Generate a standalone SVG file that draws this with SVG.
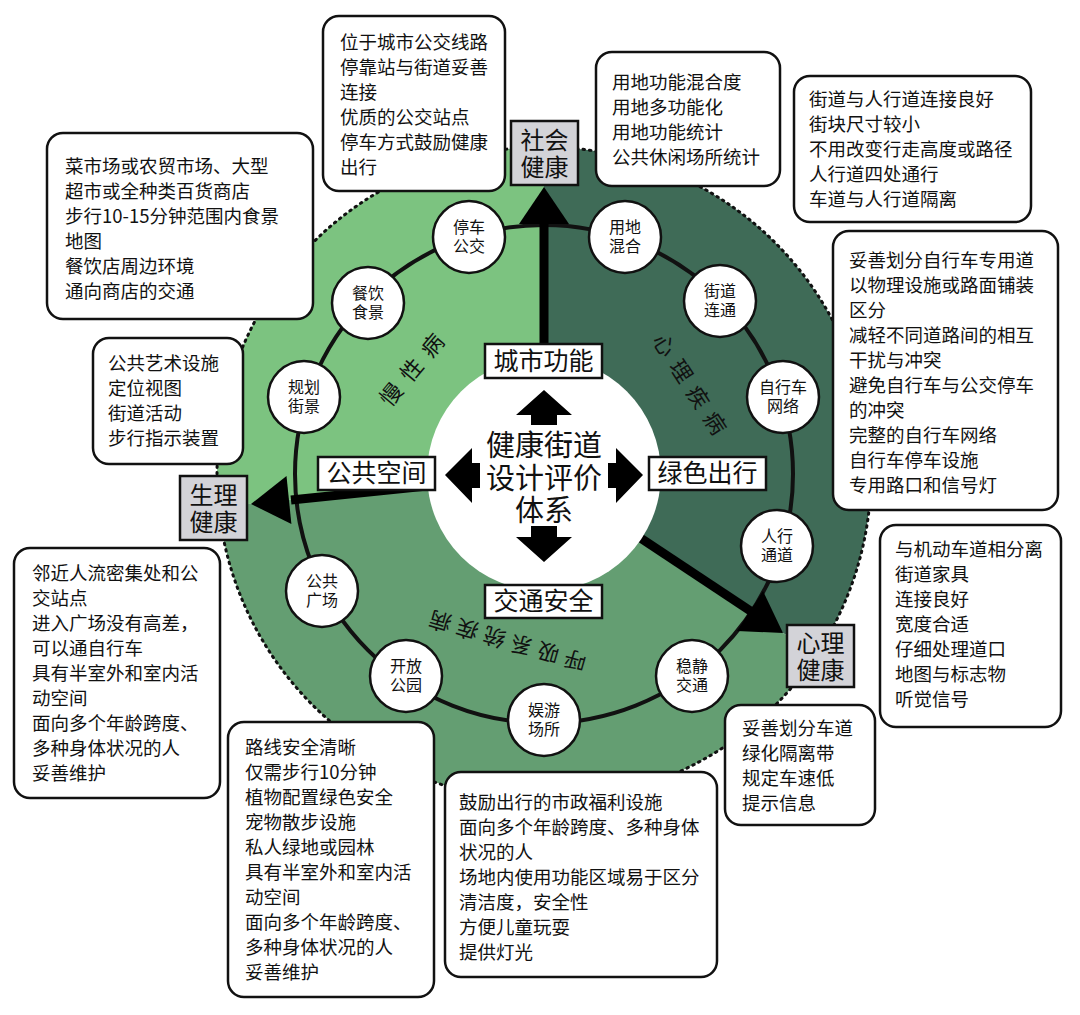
<svg xmlns="http://www.w3.org/2000/svg" width="1080" height="1015" viewBox="0 0 1080 1015">
<style>
text{font-family:"Noto Sans CJK SC","Noto Sans",sans-serif;fill:#111}
.box{fill:#fff;stroke:#111;stroke-width:2.5}
.bt{font-size:18.5px}
.nd{fill:#fff;stroke:#111;stroke-width:2.5}
.nt{font-size:16px;text-anchor:middle}
.lab{fill:#fff;stroke:#111;stroke-width:2.5}
.lt{font-size:25px;text-anchor:middle}
.hb{fill:#d3d3d8;stroke:#111;stroke-width:2.5}
.ht{font-size:24px;text-anchor:middle}
.arc{font-size:22px;text-anchor:middle}
</style>
<rect width="1080" height="1015" fill="#fff"/>
<g id="background">
<path d="M544,474 L544,147 A327,327 0 0 0 218.7,507 Z" fill="#7cc380"/>
<path d="M544,474 L544,147 A327,327 0 0 1 816.3,655 Z" fill="#3f6b57"/>
<path d="M544,474 L816.3,655 A327,327 0 0 1 218.7,507 Z" fill="#649e72"/>
<circle cx="544" cy="474" r="327" fill="none" stroke="#111" stroke-width="3" stroke-dasharray="1.5 5" stroke-linecap="round"/>
<circle cx="544" cy="474" r="249" fill="none" stroke="#111" stroke-width="4"/>
<text class="arc" fill="#1c3f26" letter-spacing="10" transform="translate(415,366) rotate(-50)" dy="8">慢性病</text>
<text class="arc" letter-spacing="9" transform="translate(692,388) rotate(57)" dy="8">心理疾病</text>
<text class="arc" letter-spacing="6" transform="translate(505,640) rotate(196)" dy="8">呼吸系统疾病</text>
</g>
<g id="connectors">
<line x1="544" y1="474" x2="544" y2="222" stroke="#000" stroke-width="9"/>
<polygon points="544,187 569,224 519,224" fill="#000"/>
<line x1="544" y1="474" x2="291" y2="500" stroke="#000" stroke-width="9"/>
<polygon points="251,504 291.4,524 286.5,476" fill="#000"/>
<line x1="544" y1="474" x2="752" y2="612" stroke="#000" stroke-width="9"/>
<polygon points="783,633 737,631 763,591" fill="#000"/>
</g>
<g id="center">
<circle cx="544" cy="474" r="117" fill="#fff"/>
<path d="M544,390 L572,415 L557,415 L557,425 L531,425 L531,415 L516,415 Z" fill="#000"/>
<path d="M544,562 L572,537 L557,537 L557,526 L531,526 L531,537 L516,537 Z" fill="#000"/>
<path d="M445,475 L472,448 L472,463 L480,463 L480,488 L472,488 L472,503 Z" fill="#000"/>
<path d="M643,475 L616,448 L616,463 L608,463 L608,488 L616,488 L616,503 Z" fill="#000"/>
<text font-size="29" text-anchor="middle" x="544" y="456">健康街道</text>
<text font-size="29" text-anchor="middle" x="544" y="489">设计评价</text>
<text font-size="29" text-anchor="middle" x="544" y="521">体系</text>
</g>
<g id="l-city"><rect class="lab" x="485" y="344" width="117" height="34"/><text class="lt" x="543.5" y="370">城市功能</text></g>
<g id="l-public"><rect class="lab" x="318" y="457" width="117" height="33"/><text class="lt" x="376.5" y="482">公共空间</text></g>
<g id="l-green"><rect class="lab" x="649" y="457" width="117" height="33"/><text class="lt" x="707.5" y="482">绿色出行</text></g>
<g id="l-traffic"><rect class="lab" x="485" y="585" width="117" height="33"/><text class="lt" x="543.5" y="610">交通安全</text></g>
<g id="h-social"><rect class="hb" x="511" y="121" width="67" height="64"/><text class="ht" x="544.5" y="149">社会</text><text class="ht" x="544.5" y="176">健康</text></g>
<g id="h-physio"><rect class="hb" x="180" y="476" width="67" height="64"/><text class="ht" x="213.5" y="504">生理</text><text class="ht" x="213.5" y="531">健康</text></g>
<g id="h-mental"><rect class="hb" x="787" y="625" width="67" height="62"/><text class="ht" x="820.5" y="652">心理</text><text class="ht" x="820.5" y="679">健康</text></g>
<g id="n1"><circle class="nd" cx="469" cy="237" r="36"/><text class="nt" x="469" y="233">停车</text><text class="nt" x="469" y="252">公交</text></g>
<g id="n2"><circle class="nd" cx="625" cy="237" r="36"/><text class="nt" x="625" y="233">用地</text><text class="nt" x="625" y="252">混合</text></g>
<g id="n3"><circle class="nd" cx="368" cy="303" r="36"/><text class="nt" x="368" y="299">餐饮</text><text class="nt" x="368" y="318">食景</text></g>
<g id="n4"><circle class="nd" cx="720" cy="301" r="36"/><text class="nt" x="720" y="297">街道</text><text class="nt" x="720" y="316">连通</text></g>
<g id="n5"><circle class="nd" cx="304" cy="397" r="36"/><text class="nt" x="304" y="393">规划</text><text class="nt" x="304" y="412">街景</text></g>
<g id="n6"><circle class="nd" cx="783" cy="397" r="36"/><text class="nt" x="783" y="393">自行车</text><text class="nt" x="783" y="412">网络</text></g>
<g id="n7"><circle class="nd" cx="777" cy="546" r="36"/><text class="nt" x="777" y="542">人行</text><text class="nt" x="777" y="561">通道</text></g>
<g id="n8"><circle class="nd" cx="322" cy="591" r="36"/><text class="nt" x="322" y="587">公共</text><text class="nt" x="322" y="606">广场</text></g>
<g id="n9"><circle class="nd" cx="406" cy="676" r="36"/><text class="nt" x="406" y="672">开放</text><text class="nt" x="406" y="691">公园</text></g>
<g id="n10"><circle class="nd" cx="692" cy="676" r="36"/><text class="nt" x="692" y="672">稳静</text><text class="nt" x="692" y="691">交通</text></g>
<g id="n11"><circle class="nd" cx="544" cy="720" r="36"/><text class="nt" x="544" y="716">娱游</text><text class="nt" x="544" y="735">场所</text></g>
<g id="b1"><rect class="box" x="323" y="16" width="182" height="175" rx="16"/>
<text class="bt" x="340" y="49">位于城市公交线路</text><text class="bt" x="340" y="74">停靠站与街道妥善</text><text class="bt" x="340" y="99">连接</text><text class="bt" x="340" y="124">优质的公交站点</text><text class="bt" x="340" y="149">停车方式鼓励健康</text><text class="bt" x="340" y="174">出行</text></g>
<g id="b2"><rect class="box" x="596" y="52" width="184" height="134" rx="16"/>
<text class="bt" x="612" y="89">用地功能混合度</text><text class="bt" x="612" y="114">用地多功能化</text><text class="bt" x="612" y="139">用地功能统计</text><text class="bt" x="612" y="164">公共休闲场所统计</text></g>
<g id="b3"><rect class="box" x="794" y="76" width="237" height="146" rx="16"/>
<text class="bt" x="809" y="106">街道与人行道连接良好</text><text class="bt" x="809" y="131">街块尺寸较小</text><text class="bt" x="809" y="156">不用改变行走高度或路径</text><text class="bt" x="809" y="181">人行道四处通行</text><text class="bt" x="809" y="206">车道与人行道隔离</text></g>
<g id="b4"><rect class="box" x="47" y="133" width="266" height="186" rx="16"/>
<text class="bt" x="65" y="173">菜市场或农贸市场、大型</text><text class="bt" x="65" y="198">超市或全种类百货商店</text><text class="bt" x="65" y="223">步行10-15分钟范围内食景</text><text class="bt" x="65" y="248">地图</text><text class="bt" x="65" y="273">餐饮店周边环境</text><text class="bt" x="65" y="298">通向商店的交通</text></g>
<g id="b5"><rect class="box" x="93" y="338" width="150" height="126" rx="16"/>
<text class="bt" x="108" y="370">公共艺术设施</text><text class="bt" x="108" y="395">定位视图</text><text class="bt" x="108" y="420">街道活动</text><text class="bt" x="108" y="445">步行指示装置</text></g>
<g id="b6"><rect class="box" x="833" y="231" width="225" height="279" rx="16"/>
<text class="bt" x="849" y="267">妥善划分自行车专用道</text><text class="bt" x="849" y="292">以物理设施或路面铺装</text><text class="bt" x="849" y="317">区分</text><text class="bt" x="849" y="342">减轻不同道路间的相互</text><text class="bt" x="849" y="367">干扰与冲突</text><text class="bt" x="849" y="392">避免自行车与公交停车</text><text class="bt" x="849" y="417">的冲突</text><text class="bt" x="849" y="442">完整的自行车网络</text><text class="bt" x="849" y="467">自行车停车设施</text><text class="bt" x="849" y="492">专用路口和信号灯</text></g>
<g id="b7"><rect class="box" x="880" y="525" width="181" height="202" rx="16"/>
<text class="bt" x="895" y="556">与机动车道相分离</text><text class="bt" x="895" y="581">街道家具</text><text class="bt" x="895" y="606">连接良好</text><text class="bt" x="895" y="631">宽度合适</text><text class="bt" x="895" y="656">仔细处理道口</text><text class="bt" x="895" y="681">地图与标志物</text><text class="bt" x="895" y="706">听觉信号</text></g>
<g id="b8"><rect class="box" x="14" y="548" width="206" height="250" rx="16"/>
<text class="bt" x="32" y="580">邻近人流密集处和公</text><text class="bt" x="32" y="605">交站点</text><text class="bt" x="32" y="630">进入广场没有高差，</text><text class="bt" x="32" y="655">可以通自行车</text><text class="bt" x="32" y="680">具有半室外和室内活</text><text class="bt" x="32" y="705">动空间</text><text class="bt" x="32" y="730">面向多个年龄跨度、</text><text class="bt" x="32" y="755">多种身体状况的人</text><text class="bt" x="32" y="780">妥善维护</text></g>
<g id="b9"><rect class="box" x="725" y="705" width="150" height="120" rx="16"/>
<text class="bt" x="742" y="735">妥善划分车道</text><text class="bt" x="742" y="760">绿化隔离带</text><text class="bt" x="742" y="785">规定车速低</text><text class="bt" x="742" y="810">提示信息</text></g>
<g id="b10"><rect class="box" x="228" y="722" width="206" height="275" rx="16"/>
<text class="bt" x="245" y="754">路线安全清晰</text><text class="bt" x="245" y="779">仅需步行10分钟</text><text class="bt" x="245" y="804">植物配置绿色安全</text><text class="bt" x="245" y="829">宠物散步设施</text><text class="bt" x="245" y="854">私人绿地或园林</text><text class="bt" x="245" y="879">具有半室外和室内活</text><text class="bt" x="245" y="904">动空间</text><text class="bt" x="245" y="929">面向多个年龄跨度、</text><text class="bt" x="245" y="954">多种身体状况的人</text><text class="bt" x="245" y="979">妥善维护</text></g>
<g id="b11"><rect class="box" x="445" y="772" width="272" height="205" rx="16"/>
<text class="bt" x="459" y="809">鼓励出行的市政福利设施</text><text class="bt" x="459" y="834">面向多个年龄跨度、多种身体</text><text class="bt" x="459" y="859">状况的人</text><text class="bt" x="459" y="884">场地内使用功能区域易于区分</text><text class="bt" x="459" y="909">清洁度，安全性</text><text class="bt" x="459" y="934">方便儿童玩耍</text><text class="bt" x="459" y="959">提供灯光</text></g>
</svg>
